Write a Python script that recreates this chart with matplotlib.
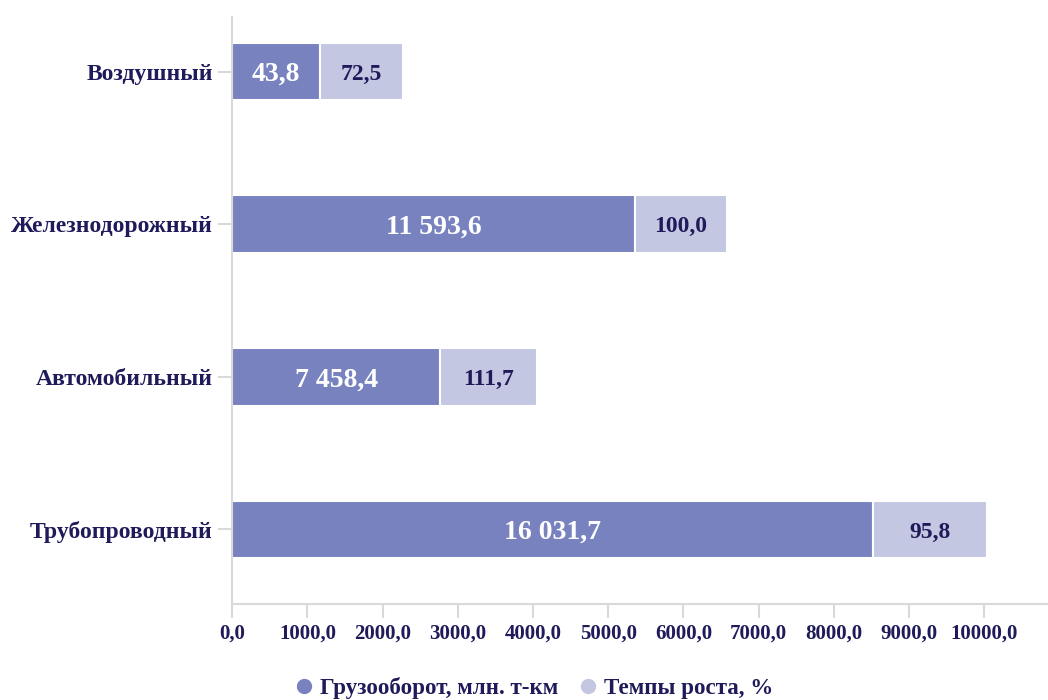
import matplotlib
matplotlib.use("Agg")
import matplotlib.pyplot as plt
from matplotlib.lines import Line2D

# Data
categories = ["Трубопроводный", "Автомобильный", "Железнодорожный", "Воздушный"]
freight_labels = ["16 031,7", "7 458,4", "11 593,6", "43,8"]
growth_labels = ["95,8", "111,7", "100,0", "72,5"]
# bar lengths as drawn on the chart's axis
freight_lengths = [8524, 2766, 5359, 1170]
growth_lengths = [1516, 1286, 1219, 1104]
xticks = [0, 1000, 2000, 3000, 4000, 5000, 6000, 7000, 8000, 9000, 10000]
xtick_labels = ["0,0", "1000,0", "2000,0", "3000,0", "4000,0", "5000,0",
                "6000,0", "7000,0", "8000,0", "9000,0", "10000,0"]
legend_names = ["Грузооборот, млн. т-км", "Темпы роста, %"]

dark = "#7782bf"
light = "#c3c7e2"
navy = "#1f1a5a"
axis_grey = "#d9d9d9"
font = "Liberation Serif"

plt.rcParams["font.family"] = [font, "DejaVu Serif"]

fig = plt.figure(figsize=(10.48, 7.0), dpi=100)
ax = fig.add_axes([232.3 / 1048, 96 / 700, (1048 - 232.3) / 1048, (604 - 17) / 700])

ypos = list(range(len(categories)))
h = 0.378
ax.barh(ypos, freight_lengths, height=h, color=dark, edgecolor="white", linewidth=1.5)
ax.barh(ypos, growth_lengths, left=freight_lengths, height=h, color=light,
        edgecolor="white", linewidth=1.5)

for y, fl, gl, ft, gt in zip(ypos, freight_lengths, growth_lengths, freight_labels, growth_labels):
    ax.text(fl / 2, y, ft, ha="center", va="center_baseline", color="white",
            fontsize=20, fontweight="bold")
    ax.text(fl + gl / 2, y, gt, ha="center", va="center_baseline", color=navy,
            fontsize=17, fontweight="bold")

ax.set_xlim(0, 10851)
ax.set_ylim(-0.488, 3.357)
ax.set_yticks(ypos)
ax.set_yticklabels(categories)
ax.set_xticks(xticks)
ax.set_xticklabels(xtick_labels)

for s in ["top", "right"]:
    ax.spines[s].set_visible(False)
for s in ["left", "bottom"]:
    ax.spines[s].set_color(axis_grey)
    ax.spines[s].set_linewidth(1.5)

ax.tick_params(axis="x", length=10, width=1.5, color=axis_grey, labelcolor=navy,
               labelsize=15, pad=4)
ax.tick_params(axis="y", length=10, width=1.5, color=axis_grey, labelcolor=navy,
               labelsize=17, pad=4)
for lab in ax.get_xticklabels() + ax.get_yticklabels():
    lab.set_fontweight("bold")

handles = [Line2D([], [], marker="o", linestyle="", markersize=10, color=c)
           for c in (dark, light)]
fig.legend(handles, legend_names, loc="center", bbox_to_anchor=(0.503, 12 / 700),
           ncol=2, frameon=False, handletextpad=-0.3, columnspacing=0.3,
           prop={"family": font, "weight": "bold", "size": 16.6},
           labelcolor=navy)

fig.savefig("out.png", dpi=100)
